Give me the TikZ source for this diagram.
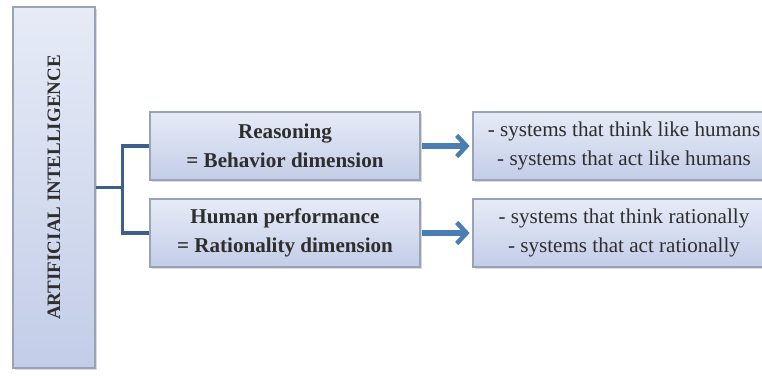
\documentclass[tikz,border=0pt]{standalone}
\usepackage{fontspec}
\setmainfont{Liberation Serif}
\usetikzlibrary{arrows.meta, shadows}
\definecolor{boxtop}{HTML}{E6EBF6}
\definecolor{boxbot}{HTML}{C3CDE8}
\definecolor{boxline}{HTML}{9AA3B6}
\definecolor{linkblue}{HTML}{3C5F8C}
\definecolor{arrowblue}{HTML}{4A7DB4}
\definecolor{textgray}{HTML}{2E2E2E}
\tikzstyle{panel} = [rectangle, draw=boxline, line width=0.8pt, top color=boxtop, bottom color=boxbot, text=textgray, align=center, drop shadow={shadow xshift=1.2pt, shadow yshift=-1.5pt, opacity=0.3}]
\tikzstyle{tallbox} = [panel, minimum width=2.05cm, minimum height=9.025cm]
\tikzstyle{dimbox} = [panel, minimum width=6.75cm, minimum height=1.7cm, font=\fontsize{15}{21}\selectfont\bfseries]
\tikzstyle{listbox} = [panel, minimum width=7.55cm, minimum height=1.7cm, font=\fontsize{15}{21}\selectfont]
\tikzstyle{link} = [draw=linkblue, line width=2.2pt]
\tikzstyle{arrow} = [draw=arrowblue, line width=3.6pt, -{Straight Barb[length=7pt, width=15pt, line width=3.2pt]}, shorten <=1pt, shorten >=2pt]

\begin{document}
\begin{tikzpicture}

\useasboundingbox (0,0) rectangle (19.05,9.375);
\clip (0,0) rectangle (19.05,9.375);

\node (ai) [tallbox] at (1.35,4.6875) {\rotatebox{90}{\fontsize{13.5}{15}\selectfont\bfseries ARTIFICIAL INTELLIGENCE}};
\node (reason) [dimbox] at (7.125,5.725) {Reasoning\\= Behavior dimension};
\node (perf) [dimbox] at (7.125,3.55) {Human performance\\= Rationality dimension};
\node (humans) [listbox] at (15.6,5.725) {- systems that think like humans\\- systems that act like humans};
\node (rational) [listbox] at (15.6,3.55) {- systems that think rationally\\- systems that act rationally};

\draw [link] (ai.east) -- ++(0.675,0) coordinate (fork);
\draw [link] (reason.west) -| (fork);
\draw [link] (perf.west) -| (fork);

\draw [arrow] (reason) -- (humans);
\draw [arrow] (perf) -- (rational);

\end{tikzpicture}
\end{document}
